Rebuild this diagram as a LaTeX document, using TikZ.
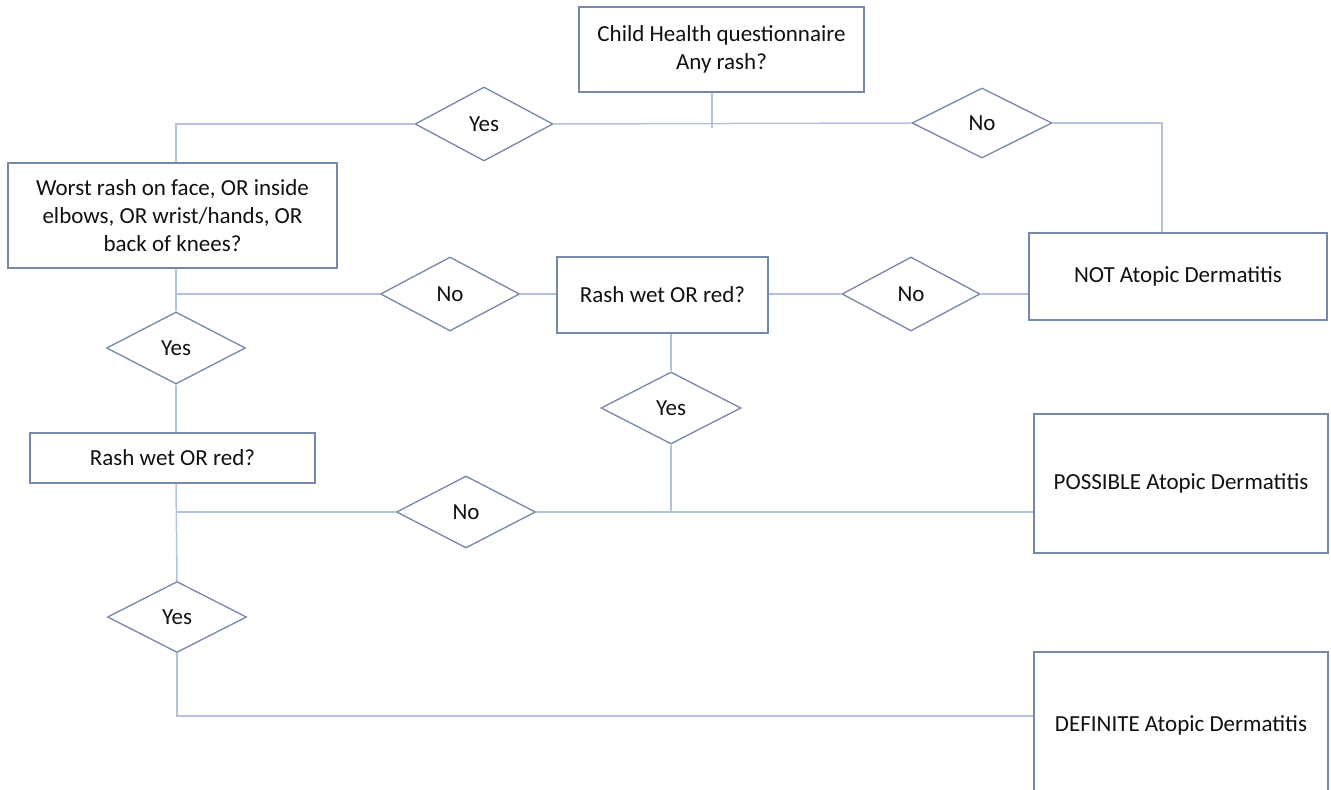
\documentclass[tikz,border=0pt]{standalone}
\usepackage{fontspec}
\setmainfont{Carlito}
\usetikzlibrary{shapes.geometric}
\definecolor{edgec}{HTML}{B3C3DB}
\definecolor{boxc}{HTML}{7587AA}
\definecolor{txt}{HTML}{111111}
\begin{document}
\begin{tikzpicture}[x=0.5pt,y=-0.5pt,
  box/.style={draw=boxc, line width=0.7pt, fill=white, text=txt, align=center,
    inner sep=0pt, font=\fontsize{11.5}{14}\selectfont},
  dia/.style={draw=boxc, shape=diamond, line width=0.65pt, fill=white, inner sep=0pt,
    text=txt, font=\fontsize{11.5}{14}\selectfont},
  conn/.style={draw=edgec, line width=0.75pt}]
\useasboundingbox (0,0) rectangle (1331,790);
\clip (0,0) rectangle (1331,790);
\fill[white] (0,0) rectangle (1331,790);

% boxes
\node[box, minimum width=142.5pt, minimum height=42.5pt] (top) at (721.5,49.5)
  {Child Health questionnaire\\Any rash?};
\node[box, minimum width=164.5pt, minimum height=52.5pt] (worst) at (172.5,215.5)
  {Worst rash on face, OR inside\\elbows, OR wrist/hands, OR\\back of knees?};
\node[box, minimum width=105.5pt, minimum height=38pt] (midq) at (662.5,295)
  {Rash wet OR red?};
\node[box, minimum width=142.5pt, minimum height=25pt] (lowq) at (172.5,458)
  {Rash wet OR red?};
\node[box, minimum width=149pt, minimum height=43.5pt] (notad) at (1178,276.5)
  {NOT Atopic Dermatitis};
\node[box, minimum width=147pt, minimum height=69.5pt] (possad) at (1181,483.5)
  {POSSIBLE Atopic Dermatitis};
\node[box, minimum width=147pt, minimum height=73pt] (defad) at (1181,725)
  {DEFINITE Atopic Dermatitis};

% diamonds
\node[dia, minimum width=69pt, minimum height=37pt] (yes1) at (484,124) {Yes};
\node[dia, minimum width=70pt, minimum height=35pt] (no1) at (982,123) {No};
\node[dia, minimum width=69.5pt, minimum height=37pt] (no2) at (450,294) {No};
\node[dia, minimum width=69pt, minimum height=37pt] (no3) at (911,294) {No};
\node[dia, minimum width=69.5pt, minimum height=36pt] (yes2) at (176,348) {Yes};
\node[dia, minimum width=70pt, minimum height=36pt] (yes3) at (671,408) {Yes};
\node[dia, minimum width=69.5pt, minimum height=36pt] (no4) at (466,512) {No};
\node[dia, minimum width=69.5pt, minimum height=35.5pt] (yes4) at (177,617) {Yes};

% junction coordinates
\coordinate (j0) at (712,128);
\coordinate (jl) at (176,124);
\coordinate (jr) at (1162,123);
\coordinate (j2) at (176,294);
\coordinate (j3) at (671,512);
\coordinate (j4) at (176,512);
\coordinate (j5) at (177,716);

% connectors
\path[conn] (top.south -| j0) -- (j0);
\path[conn] (yes1.west) -- (jl) -- (worst.north -| jl);
\path[conn] (yes1.east) -- (no1.west);
\path[conn] (no1.east) -- (jr) -- (notad.north -| jr);
\path[conn] (worst.south -| j2) -- (yes2.north);
\path[conn] (j2) -- (no2.west);
\path[conn] (no2.east) -- (midq.west |- no2.east);
\path[conn] (midq.east |- no3.west) -- (no3.west);
\path[conn] (no3.east) -- (notad.west |- no3.east);
\path[conn] (midq.south -| yes3.north) -- (yes3.north);
\path[conn] (yes3.south) -- (j3);
\path[conn] (yes2.south) -- (lowq.north -| yes2.south);
\path[conn] (lowq.south -| j4) -- (yes4.north);
\path[conn] (j4) -- (no4.west);
\path[conn] (no4.east) -- (possad.west |- no4.east);
\path[conn] (yes4.south) -- (j5) -- (defad.west |- j5);
\end{tikzpicture}
\end{document}
